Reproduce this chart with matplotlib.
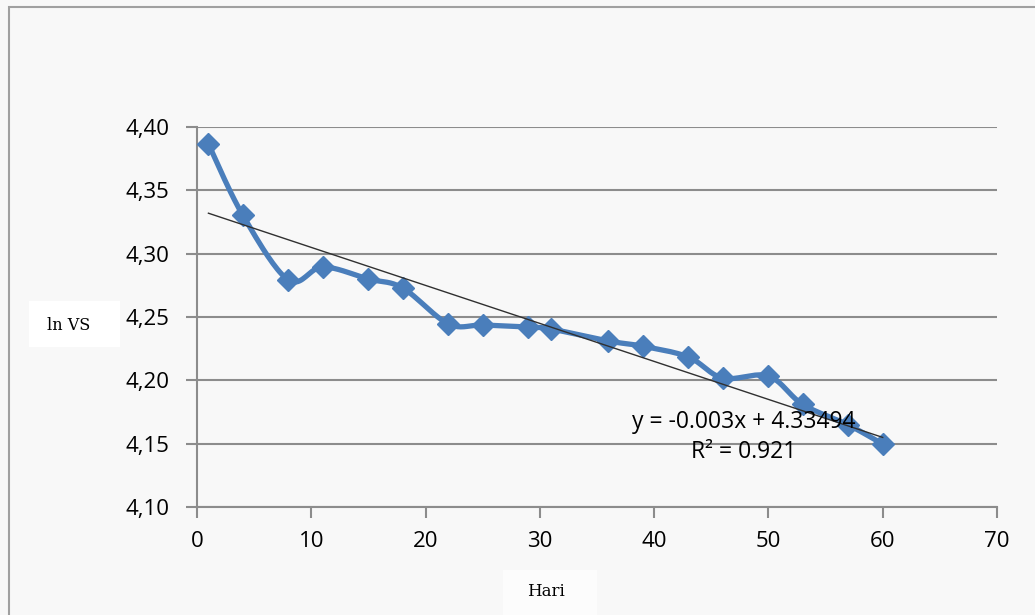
import numpy as np
import matplotlib
matplotlib.use("Agg")
import matplotlib.pyplot as plt
from matplotlib.patches import Rectangle

# data
hari = [1, 4, 8, 11, 15, 18, 22, 25, 29, 31, 36, 39, 43, 46, 50, 53, 57, 60]
ln_vs = [4.3866, 4.3305, 4.2792, 4.2895, 4.2800, 4.2729, 4.2445, 4.2437, 4.2420,
         4.2405, 4.2310, 4.2270, 4.2184, 4.2018, 4.2034, 4.1810, 4.1647, 4.1497]
slope, intercept = -0.003, 4.33494
yticks = [4.10, 4.15, 4.20, 4.25, 4.30, 4.35, 4.40]
xticks = [0, 10, 20, 30, 40, 50, 60, 70]

W, H = 1035, 615


def smooth(x, y, n=20):
    # Catmull-Rom curve through the points (like Excel's smoothed line)
    x = np.asarray(x, float); y = np.asarray(y, float)
    px = np.concatenate([[x[0]], x, [x[-1]]])
    py = np.concatenate([[y[0]], y, [y[-1]]])
    ox, oy = [], []
    for i in range(1, len(px) - 2):
        t = np.linspace(0, 1, n, endpoint=False)
        for arr, out in ((px, ox), (py, oy)):
            p0, p1, p2, p3 = arr[i-1], arr[i], arr[i+1], arr[i+2]
            out.extend(0.5 * (2*p1 + (-p0 + p2)*t + (2*p0 - 5*p1 + 4*p2 - p3)*t**2
                              + (-p0 + 3*p1 - 3*p2 + p3)*t**3))
    ox.append(x[-1]); oy.append(y[-1])
    return np.array(ox), np.array(oy)


def box(x0, y0, x1, y1, alpha=1.0):
    # pixel box (top-left origin) -> figure rectangle
    fig.patches.append(Rectangle((x0/W, 1 - y1/H), (x1 - x0)/W, (y1 - y0)/H,
                                 transform=fig.transFigure, facecolor="white",
                                 edgecolor="none", alpha=alpha, zorder=2))


fig = plt.figure(figsize=(W/100, H/100), dpi=100)
fig.patch.set_facecolor("#f8f8f8")
fig.patches.append(Rectangle((9/W, -0.1), 1.2, 1 - 7/H + 0.1, transform=fig.transFigure,
                             fill=False, edgecolor="#a0a0a0", linewidth=1.5))

ax = fig.add_axes([197/W, 1 - 507/H, 800/W, 380/H])
ax.set_facecolor("#f8f8f8")

sx, sy = smooth(hari, ln_vs)
ax.plot(sx, sy, color="#4a7ebb", linewidth=3.8, solid_capstyle="round", zorder=3)
ax.plot(hari, ln_vs, linestyle="none", marker="D", markersize=11,
        color="#4a7ebb", zorder=4)

tx = np.array([hari[0], hari[-1]])
ax.plot(tx, slope * tx + intercept, color="#303030", linewidth=1.0, zorder=5)

ax.set_xlim(0, 70)
ax.set_ylim(4.10, 4.40)
ax.set_xticks(xticks)
ax.set_yticks(yticks)
ax.set_yticklabels([f"{v:.2f}".replace(".", ",") for v in yticks])
ax.grid(axis="y", color="#8c8c8c", linewidth=1.5)
ax.set_axisbelow(True)
for s in ["top", "right"]:
    ax.spines[s].set_visible(False)
for s in ["left", "bottom"]:
    ax.spines[s].set_color("#8c8c8c")
    ax.spines[s].set_linewidth(1.5)
ax.tick_params(axis="both", colors="#8c8c8c", width=1.5, length=8, labelsize=16,
               labelcolor="black")
ax.tick_params(axis="y", pad=12)
ax.tick_params(axis="x", pad=9)
for lab in ax.get_xticklabels() + ax.get_yticklabels():
    lab.set_fontfamily("Open Sans")

fig.text(744/W, 1 - 422/H, "y = -0.003x + 4.33494", ha="center", va="center",
         fontsize=16.5, family="Open Sans", zorder=6)
fig.text(744/W, 1 - 452/H, "R² = 0.921", ha="center", va="center",
         fontsize=16.5, family="Open Sans", zorder=6)

box(29, 301, 120, 347)
box(503, 570, 597, 615, alpha=0.6)
fig.text(69/W, 1 - 326/H, "ln VS", ha="center", va="center", fontsize=11.5,
         family="DejaVu Serif", zorder=3)
fig.text(546/W, 1 - 592/H, "Hari", ha="center", va="center", fontsize=12,
         family="DejaVu Serif", zorder=3)

fig.savefig("out.png", dpi=100, facecolor=fig.get_facecolor())
